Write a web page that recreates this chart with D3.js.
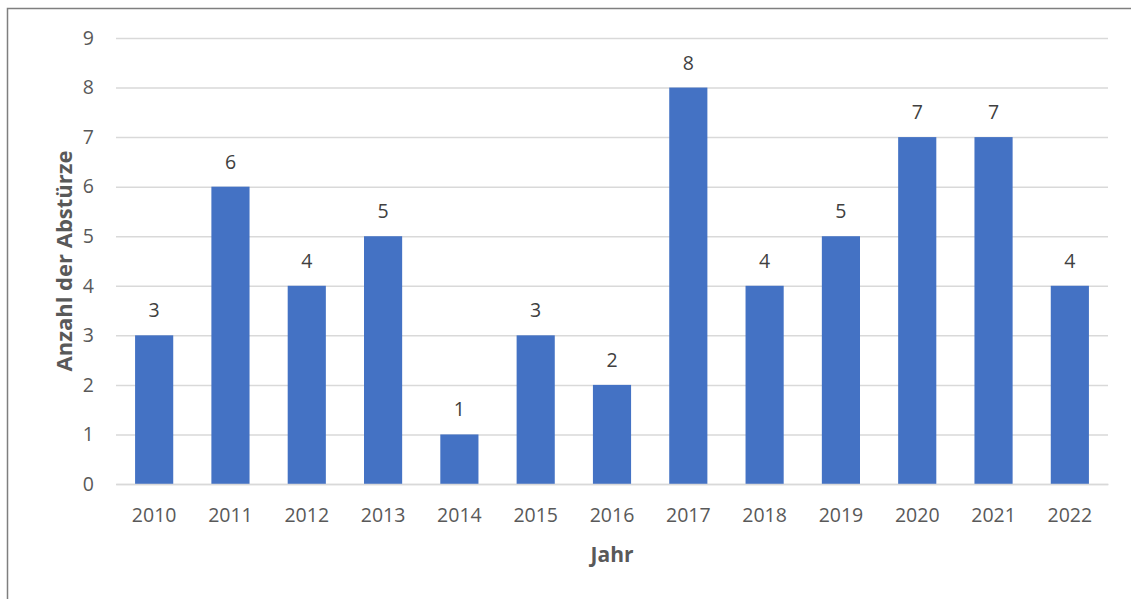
<!DOCTYPE html>
<html><head><meta charset="utf-8">
<script src="https://cdn.jsdelivr.net/npm/d3@7"></script>
<style>html,body{margin:0;padding:0;background:#fff;}svg{display:block;}</style>
</head><body>
<script>
const years = ["2010","2011","2012","2013","2014","2015","2016","2017","2018","2019","2020","2021","2022"];
const crashes = [3,6,4,5,1,3,2,8,4,5,7,7,4];
const yTicks = [0,1,2,3,4,5,6,7,8,9];
const xTitle = "Jahr";
const yTitle = "Anzahl der Abstürze";

const W = 1131, H = 599;
const m = {left:116, right:23, top:38, bottom:115};
const font = "'Open Sans', 'Noto Sans', sans-serif";
const svg = d3.select("body").append("svg").attr("width", W).attr("height", H);

svg.append("rect").attr("x",7.5).attr("y",8.5).attr("width",W+10).attr("height",H+10)
  .attr("fill","none").attr("stroke","#7f7f7f").attr("stroke-width",1.5);

const x = d3.scaleBand().domain(years).range([m.left, W-m.right]).paddingInner(0.5).paddingOuter(0.25);
const y = d3.scaleLinear().domain([0,9]).range([H-m.bottom, m.top]);

const gy = svg.append("g").attr("transform",`translate(${m.left},0)`)
  .call(d3.axisLeft(y).tickValues(yTicks).tickSize(-(W-m.left-m.right)).tickPadding(22).tickFormat(d3.format("d")));
gy.select(".domain").remove();
gy.selectAll(".tick line").attr("stroke","#d9d9d9").attr("stroke-width",1.5);
gy.selectAll(".tick text").attr("fill","#595959").style("font-family",font).style("font-size","19.5px");

svg.append("g").selectAll("rect").data(years).join("rect")
  .attr("x", d=>x(d)).attr("width", x.bandwidth())
  .attr("y", (d,i)=>y(crashes[i])).attr("height",(d,i)=>y(0)-y(crashes[i]))
  .attr("fill","#4472c4");

svg.append("g").selectAll("text").data(years).join("text")
  .attr("x", d=>x(d)+x.bandwidth()/2).attr("y",(d,i)=>y(crashes[i])-18)
  .attr("text-anchor","middle").attr("fill","#404040")
  .style("font-family",font).style("font-size","19.5px")
  .text((d,i)=>crashes[i]);

const gx = svg.append("g").attr("transform",`translate(0,${y(0)})`)
  .call(d3.axisBottom(x).tickSize(0).tickPadding(24));
gx.select(".domain").attr("stroke","#d9d9d9").attr("stroke-width",1.5);
gx.selectAll(".tick text").attr("fill","#595959").style("font-family",font).style("font-size","19.5px");

svg.append("text").attr("x",(m.left+W-m.right)/2).attr("y",562).attr("text-anchor","middle")
  .attr("fill","#595959").style("font-family",font).style("font-size","21px").style("font-weight","bold").text(xTitle);
svg.append("text").attr("transform",`translate(72,${(y(0)+y(9))/2}) rotate(-90)`).attr("text-anchor","middle")
  .attr("fill","#595959").style("font-family",font).style("font-size","22px").style("font-weight","bold").text(yTitle);
</script>
</body></html>
